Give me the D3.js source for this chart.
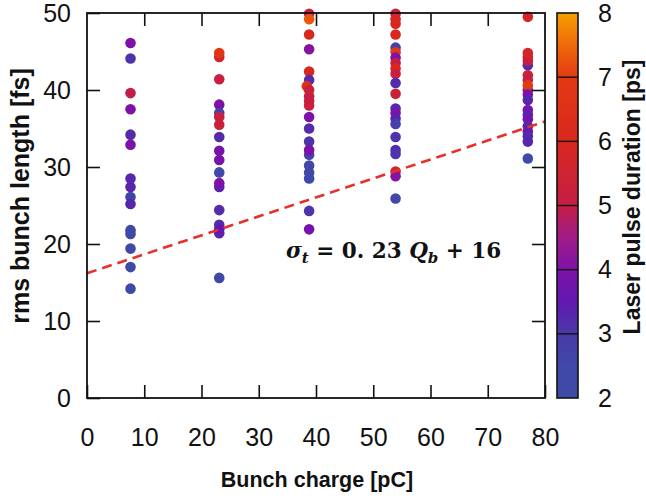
<!DOCTYPE html>
<html><head><meta charset="utf-8">
<script src="https://cdn.jsdelivr.net/npm/d3@7/dist/d3.min.js"></script>
<style>
html,body{margin:0;padding:0;background:#fff;}
svg{display:block;}
</style></head>
<body><svg id="chart" width="646" height="498"></svg>
<script>
// ---------- data ----------
const charge = [
  7.6,7.6,7.6,7.6,7.6,7.6,7.6,7.6,7.6,7.6,7.6,7.6,7.6,7.6,7.6,
  23.1,23.1,23.1,23.1,23.1,23.1,23.1,23.1,23.1,23.1,23.1,23.1,23.1,23.1,23.1,23.1,23.1,23.1,
  38.8,38.8,38.8,38.8,38.8,38.8,38.4,38.8,38.8,38.8,38.8,38.8,38.8,38.8,38.8,38.8,38.8,38.8,38.8,38.8,38.8,
  53.9,53.9,53.9,53.9,53.9,53.9,53.9,53.9,53.9,53.9,53.9,53.9,53.9,53.9,53.9,53.9,53.9,53.9,53.9,53.9,53.9,53.9,
  77.0,77.0,77.0,77.0,77.0,77.0,77.0,77.0,77.0,77.0,77.0,77.0,77.0,77.0,77.0,77.0,77.0,77.0,77.0
];
const bunchLength = [
  46.1,44.1,39.6,37.5,34.2,32.9,28.5,27.4,26.1,25.2,21.8,21.3,19.4,17.0,14.2,
  44.3,44.8,41.4,38.1,37.0,36.5,35.5,33.9,32.1,30.9,29.3,27.4,27.9,24.4,22.5,21.4,21.9,15.6,
  49.9,49.2,47.2,45.3,42.4,41.3,40.5,40.0,39.2,38.6,38.0,36.5,35.0,33.3,31.6,32.2,30.2,29.3,28.5,24.3,21.9,
  49.9,49.2,48.6,47.2,45.5,44.9,44.2,43.5,42.8,42.1,40.9,39.5,37.6,37.0,36.3,35.6,33.9,32.2,31.7,29.4,28.8,25.9,
  49.5,43.2,43.8,44.3,44.8,41.9,41.3,40.0,40.6,39.4,38.7,37.4,36.8,36.2,35.3,34.6,34.0,33.3,31.1
];
const pulseDuration = [
  4.0,3.1,5.0,4.0,3.2,4.0,3.3,3.3,2.6,3.3,2.4,2.3,2.3,2.3,2.3,
  5.6,6.8,5.2,4.0,2.6,5.2,5.3,3.2,3.9,3.9,2.5,3.3,4.0,3.2,3.2,3.3,3.6,2.4,
  5.2,7.3,6.0,4.1,6.0,3.2,6.5,5.3,5.2,5.1,5.2,4.0,3.2,3.1,2.7,4.0,2.5,2.5,2.4,3.1,3.9,
  5.3,5.8,6.0,6.0,2.8,7.0,4.0,5.0,6.0,5.2,3.2,5.3,3.3,4.0,3.3,2.8,3.1,3.2,3.1,5.5,4.1,2.4,
  5.8,3.2,5.0,5.3,5.8,5.2,5.1,3.2,7.0,4.0,3.3,4.0,3.3,3.8,3.3,3.8,3.2,3.3,2.3
];
const fitCharge = [0, 80];
const fitLength = [16.2, 35.9];
const fitLabel = {sigma:"σ", sub1:"t", mid:" = 0. 23 ", q:"Q", sub2:"b", tail:" + 16"};
const xTicks = [0,10,20,30,40,50,60,70,80];
const yTicks = [0,10,20,30,40,50];
const cbTicks = [2,3,4,5,6,7,8];
const paletteStops = [2,2.5,3,3.5,4,4.5,5,6,7,7.5,8];
const paletteColors = ["#3e4aa6","#4048a8","#4a3aa8","#6218b0","#7e12a8","#a01c88","#c41e46","#d8281e","#e23a14","#ee6a0a","#f5a000"];
const xTitle = "Bunch charge [pC]";
const yTitle = "rms bunch length [fs]";
const cTitle = "Laser pulse duration [ps]";

// ---------- drawing ----------
const svg = d3.select("#chart");
const L=87, R=545, T=13, B=398;
const x = d3.scaleLinear().domain([0,80]).range([L,R]);
const y = d3.scaleLinear().domain([0,50]).range([B,T]);
const color = d3.scaleLinear().domain(paletteStops).range(paletteColors).clamp(true);
const cy = d3.scaleLinear().domain([2,8]).range([B,T]);
const FONT = "'Liberation Sans Narrow','Arial Narrow','Liberation Sans',Arial,sans-serif";

const pts = charge.map((c,i)=>({q:c, s:bunchLength[i], d:pulseDuration[i]}));

svg.append("g").selectAll("circle").data(pts).join("circle")
  .attr("cx",d=>x(d.q)).attr("cy",d=>y(d.s)).attr("r",5.3)
  .attr("fill",d=>color(d.d));

// fit line
const line = d3.line().x(d=>x(d[0])).y(d=>y(d[1]));
svg.append("path").datum(fitCharge.map((c,i)=>[c,fitLength[i]]))
  .attr("d",line).attr("fill","none").attr("stroke","#e8302a")
  .attr("stroke-width",2.6).attr("stroke-dasharray","10,6");

// axes
function styleAxis(g){
  g.select(".domain").remove();
  g.selectAll(".tick line").attr("stroke","#111").attr("stroke-width",1.6);
  g.selectAll("text").attr("font-family",FONT).attr("font-size",25).attr("fill","#111");
}
svg.append("g").attr("transform",`translate(0,${B})`)
  .call(d3.axisBottom(x).tickValues(xTicks).tickSizeInner(-13).tickSizeOuter(0).tickPadding(30).tickFormat(d3.format("d")))
  .call(styleAxis);
svg.append("g").attr("transform",`translate(0,${T})`)
  .call(d3.axisTop(x).tickValues(xTicks.slice(1,-1)).tickSizeInner(-13).tickSizeOuter(0).tickFormat(""))
  .call(styleAxis);
svg.append("g").attr("transform",`translate(${L},0)`)
  .call(d3.axisLeft(y).tickValues(yTicks).tickSizeInner(-13).tickSizeOuter(0).tickPadding(16).tickFormat(d3.format("d")))
  .call(styleAxis);
svg.append("g").attr("transform",`translate(${R},0)`)
  .call(d3.axisRight(y).tickValues(yTicks.slice(1,-1)).tickSizeInner(-13).tickSizeOuter(0).tickFormat(""))
  .call(styleAxis);
svg.append("rect").attr("x",L).attr("y",T).attr("width",R-L).attr("height",B-T)
  .attr("fill","none").attr("stroke","#111").attr("stroke-width",1.8);

// colorbar
const CBL=557, CBW=21;
const grad = svg.append("defs").append("linearGradient").attr("id","cb")
  .attr("x1",0).attr("y1",1).attr("x2",0).attr("y2",0);
d3.range(0,61).forEach(i=>{
  const v = 2 + i*0.1;
  grad.append("stop").attr("offset",(v-2)/6).attr("stop-color",color(v));
});
svg.append("rect").attr("x",CBL).attr("y",T).attr("width",CBW).attr("height",B-T)
  .attr("fill","url(#cb)");
svg.append("g").attr("transform",`translate(${CBL+CBW},0)`)
  .call(d3.axisRight(cy).tickValues(cbTicks).tickSizeInner(0).tickSizeOuter(0).tickPadding(20).tickFormat(d3.format("d")))
  .call(styleAxis);
svg.append("g").selectAll("line").data(cbTicks.slice(1,-1)).join("line")
  .attr("x1",CBL).attr("x2",CBL+CBW).attr("y1",d=>cy(d)).attr("y2",d=>cy(d))
  .attr("stroke","#111").attr("stroke-width",1.4);
svg.append("rect").attr("x",CBL).attr("y",T).attr("width",CBW).attr("height",B-T)
  .attr("fill","none").attr("stroke","#111").attr("stroke-width",1.6);

// titles
svg.append("text").attr("x",317).attr("y",487).attr("text-anchor","middle")
  .attr("font-family",FONT).attr("font-weight","bold").attr("font-size",21.5).attr("fill","#111").text(xTitle);
svg.append("text").attr("transform","translate(29,196) rotate(-90)").attr("text-anchor","middle")
  .attr("font-family",FONT).attr("font-weight","bold").attr("font-size",25).attr("fill","#111").text(yTitle);
svg.append("text").attr("transform","translate(640,197) rotate(-90)").attr("text-anchor","middle")
  .attr("font-family",FONT).attr("font-weight","bold").attr("font-size",23).attr("fill","#111").text(cTitle);

// equation
const eq = svg.append("text").attr("x",286).attr("y",258)
  .attr("font-family","'DejaVu Serif','Liberation Serif',serif").attr("font-weight","bold")
  .attr("font-size",21.5).attr("fill","#111");
eq.append("tspan").attr("font-style","italic").text(fitLabel.sigma);
eq.append("tspan").attr("font-style","italic").attr("font-size",15).attr("dy",5).text(fitLabel.sub1);
eq.append("tspan").attr("dy",-5).text(fitLabel.mid);
eq.append("tspan").attr("font-style","italic").text(fitLabel.q);
eq.append("tspan").attr("font-style","italic").attr("font-size",15).attr("dy",5).text(fitLabel.sub2);
eq.append("tspan").attr("dy",-5).text(fitLabel.tail);
</script></body></html>
